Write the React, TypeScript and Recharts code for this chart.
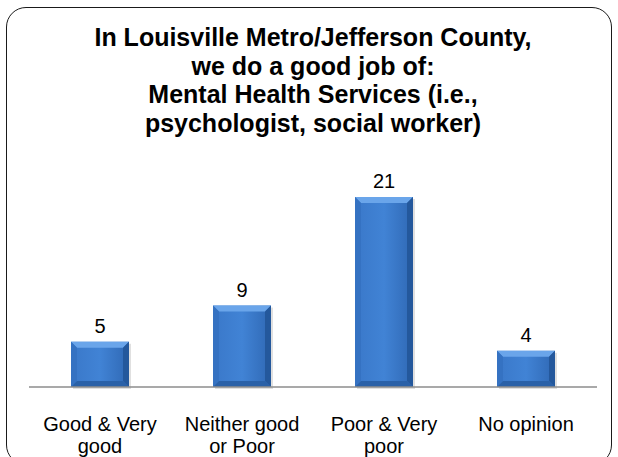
import { BarChart, Bar, XAxis, YAxis, LabelList } from 'recharts';

const categories: string[] = ['Good & Very good', 'Neither good or Poor', 'Poor & Very poor', 'No opinion'];
const counts: number[] = [5, 9, 21, 4];
const tickLines: string[][] = [
  ['Good & Very', 'good'],
  ['Neither good', 'or Poor'],
  ['Poor & Very', 'poor'],
  ['No opinion'],
];
const titleLines: string[] = [
  'In Louisville Metro/Jefferson County,',
  'we do a good job of:',
  'Mental Health Services (i.e.,',
  'psychologist, social worker)',
];

const data = categories.map((name, i) => ({ name, value: counts[i], lines: tickLines[i] }));

const FONT = '"Liberation Sans", Arial, sans-serif';

const BevelBar = (props: any) => {
  const { x, y, width, height } = props;
  if (!height || height <= 0) return null;
  const b = 6;
  return (
    <g>
      <rect x={x + 2} y={y + 2} width={width} height={height} fill="#000" opacity={0.12} />
      <rect x={x} y={y} width={width} height={height} fill="url(#barFace)" />
      {/* top bevel */}
      <polygon points={`${x},${y} ${x + width},${y} ${x + width - b},${y + b} ${x + b},${y + b}`} fill="#6aa5ea" />
      {/* left bevel */}
      <polygon points={`${x},${y} ${x + b},${y + b} ${x + b},${y + height - b} ${x},${y + height}`} fill="#3572c2" />
      {/* right bevel */}
      <polygon points={`${x + width},${y} ${x + width - b},${y + b} ${x + width - b},${y + height - b} ${x + width},${y + height}`} fill="#24589c" />
      {/* bottom bevel */}
      <polygon points={`${x},${y + height} ${x + b},${y + height - b} ${x + width - b},${y + height - b} ${x + width},${y + height}`} fill="#2a61a8" />
    </g>
  );
};

const CategoryTick = (props: any) => {
  const { x, y, index } = props;
  const lines = tickLines[index] || [];
  return (
    <text x={x} y={y} textAnchor="middle" fontSize={20} fontFamily={FONT} fill="#000">
      {lines.map((l, i) => (
        <tspan key={i} x={x} y={y + 36 + i * 22}>
          {l}
        </tspan>
      ))}
    </text>
  );
};

export default function App() {
  return (
    <div style={{ position: 'absolute', left: 0, top: 0, width: 618, height: 457, background: '#fff', overflow: 'hidden' }}>
      <div
        style={{
          position: 'absolute',
          left: 6,
          top: 7,
          width: 606,
          height: 458,
          border: '1.5px solid #1a1a1a',
          borderRadius: 20,
          boxSizing: 'border-box',
        }}
      />
      <div
        style={{
          position: 'absolute',
          left: 0,
          top: 23,
          width: 626,
          textAlign: 'center',
          fontFamily: FONT,
          fontWeight: 'bold',
          fontSize: 25,
          lineHeight: '28.7px',
          color: '#000',
        }}
      >
        {titleLines.map((t, i) => (
          <div key={i}>{t}</div>
        ))}
      </div>
      <div style={{ position: 'absolute', left: 0, top: 0 }}>
        <BarChart width={618} height={457} data={data} margin={{ top: 197, right: 21, bottom: 10, left: 29 }} barSize={58}>
          <defs>
            <linearGradient id="barFace" x1="0" y1="0" x2="1" y2="0">
              <stop offset="0%" stopColor="#3a78c9" />
              <stop offset="50%" stopColor="#4183d5" />
              <stop offset="100%" stopColor="#2f68b4" />
            </linearGradient>
          </defs>
          <XAxis
            dataKey="name"
            height={60}
            tickLine={false}
            axisLine={{ stroke: '#8c8c8c', strokeWidth: 1.5 }}
            tick={<CategoryTick />}
            interval={0}
          />
          <YAxis hide domain={[0, 21]} />
          <Bar dataKey="value" shape={<BevelBar />} isAnimationActive={false}>
            <LabelList dataKey="value" position="top" offset={9} fontSize={20} fontFamily={FONT} fill="#000" />
          </Bar>
        </BarChart>
      </div>
    </div>
  );
}
